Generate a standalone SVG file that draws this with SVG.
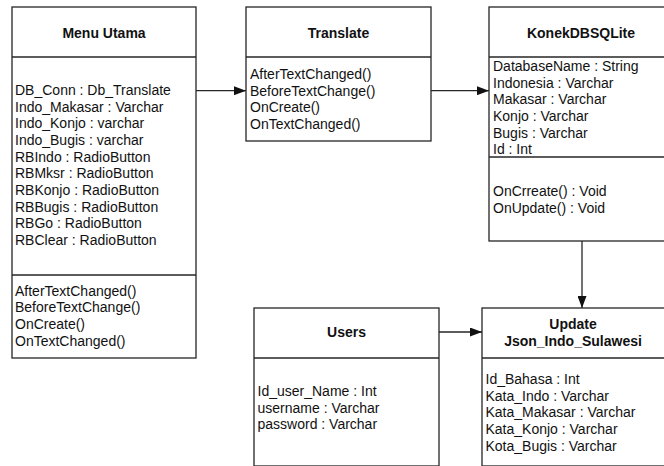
<svg xmlns="http://www.w3.org/2000/svg" width="664" height="466" viewBox="0 0 664 466">
<style>
.box{fill:#fff;stroke:#262626;stroke-width:1.3}
.div{stroke:#262626;stroke-width:1.3}
.t{font-family:"Liberation Sans",Arial,sans-serif;font-size:14px;fill:#111}
.h{font-family:"Liberation Sans",Arial,sans-serif;font-size:14px;font-weight:bold;fill:#111;text-anchor:middle}
.c{stroke:#262626;stroke-width:1.3;fill:none}
</style>
<defs>
<marker id="ah" markerWidth="12" markerHeight="9" refX="12" refY="4.5" orient="auto" markerUnits="userSpaceOnUse">
<path d="M0,0 L12,4.5 L0,9 Z" fill="#111"/>
</marker>
</defs>
<rect width="664" height="466" fill="#fff"/>
<g id="connectors">
<line class="c" x1="196" y1="90.7" x2="246" y2="90.7" marker-end="url(#ah)"/>
<line class="c" x1="431" y1="90.7" x2="489" y2="90.7" marker-end="url(#ah)"/>
<line class="c" x1="582" y1="241" x2="582" y2="308" marker-end="url(#ah)"/>
<line class="c" x1="439" y1="332" x2="482" y2="332" marker-end="url(#ah)"/>
</g>
<g id="menu-utama">
<rect class="box" x="12" y="7" width="184" height="351"/>
<line class="div" x1="12" y1="57" x2="196" y2="57"/>
<line class="div" x1="12" y1="275" x2="196" y2="275"/>
<text class="h" x="104" y="37.5">Menu Utama</text>
<text class="t" x="15">
<tspan x="15" y="95">DB_Conn : Db_Translate</tspan>
<tspan x="15" y="111.7">Indo_Makasar : Varchar</tspan>
<tspan x="15" y="128.3">Indo_Konjo : varchar</tspan>
<tspan x="15" y="145">Indo_Bugis : varchar</tspan>
<tspan x="15" y="161.7">RBIndo : RadioButton</tspan>
<tspan x="15" y="178.3">RBMksr : RadioButton</tspan>
<tspan x="15" y="195">RBKonjo : RadioButton</tspan>
<tspan x="15" y="211.7">RBBugis : RadioButton</tspan>
<tspan x="15" y="228.3">RBGo : RadioButton</tspan>
<tspan x="15" y="245">RBClear : RadioButton</tspan>
</text>
<text class="t">
<tspan x="15" y="295.5">AfterTextChanged()</tspan>
<tspan x="15" y="312.2">BeforeTextChange()</tspan>
<tspan x="15" y="328.8">OnCreate()</tspan>
<tspan x="15" y="345.5">OnTextChanged()</tspan>
</text>
</g>
<g id="translate">
<rect class="box" x="246" y="7" width="185" height="134"/>
<line class="div" x1="246" y1="57" x2="431" y2="57"/>
<text class="h" x="338.5" y="37.5">Translate</text>
<text class="t">
<tspan x="250" y="79">AfterTextChanged()</tspan>
<tspan x="250" y="95.7">BeforeTextChange()</tspan>
<tspan x="250" y="112.3">OnCreate()</tspan>
<tspan x="250" y="129">OnTextChanged()</tspan>
</text>
</g>
<g id="konekdbsqlite">
<rect class="box" x="489" y="7" width="184" height="234"/>
<line class="div" x1="489" y1="57" x2="673" y2="57"/>
<line class="div" x1="489" y1="157" x2="673" y2="157"/>
<text class="h" x="581" y="37.5">KonekDBSQLite</text>
<text class="t">
<tspan x="493" y="71">DatabaseName : String</tspan>
<tspan x="493" y="87.7">Indonesia : Varchar</tspan>
<tspan x="493" y="104.3">Makasar : Varchar</tspan>
<tspan x="493" y="121">Konjo : Varchar</tspan>
<tspan x="493" y="137.7">Bugis : Varchar</tspan>
<tspan x="493" y="154.3">Id : Int</tspan>
</text>
<text class="t">
<tspan x="493" y="196">OnCrreate() : Void</tspan>
<tspan x="493" y="212.7">OnUpdate() : Void</tspan>
</text>
</g>
<g id="users">
<rect class="box" x="254" y="308" width="185" height="158"/>
<line class="div" x1="254" y1="358" x2="439" y2="358"/>
<text class="h" x="346.5" y="337">Users</text>
<text class="t">
<tspan x="257.5" y="396">Id_user_Name : Int</tspan>
<tspan x="257.5" y="412.7">username : Varchar</tspan>
<tspan x="257.5" y="429.3">password : Varchar</tspan>
</text>
</g>
<g id="update-json">
<rect class="box" x="482" y="308" width="183" height="158"/>
<line class="div" x1="482" y1="358" x2="665" y2="358"/>
<text class="h" x="573" y="329">Update</text>
<text class="h" x="573" y="346">Json_Indo_Sulawesi</text>
<text class="t">
<tspan x="485.5" y="384">Id_Bahasa : Int</tspan>
<tspan x="485.5" y="400.7">Kata_Indo : Varchar</tspan>
<tspan x="485.5" y="417.3">Kata_Makasar : Varchar</tspan>
<tspan x="485.5" y="434">Kata_Konjo : Varchar</tspan>
<tspan x="485.5" y="450.7">Kota_Bugis : Varchar</tspan>
</text>
</g>
</svg>
